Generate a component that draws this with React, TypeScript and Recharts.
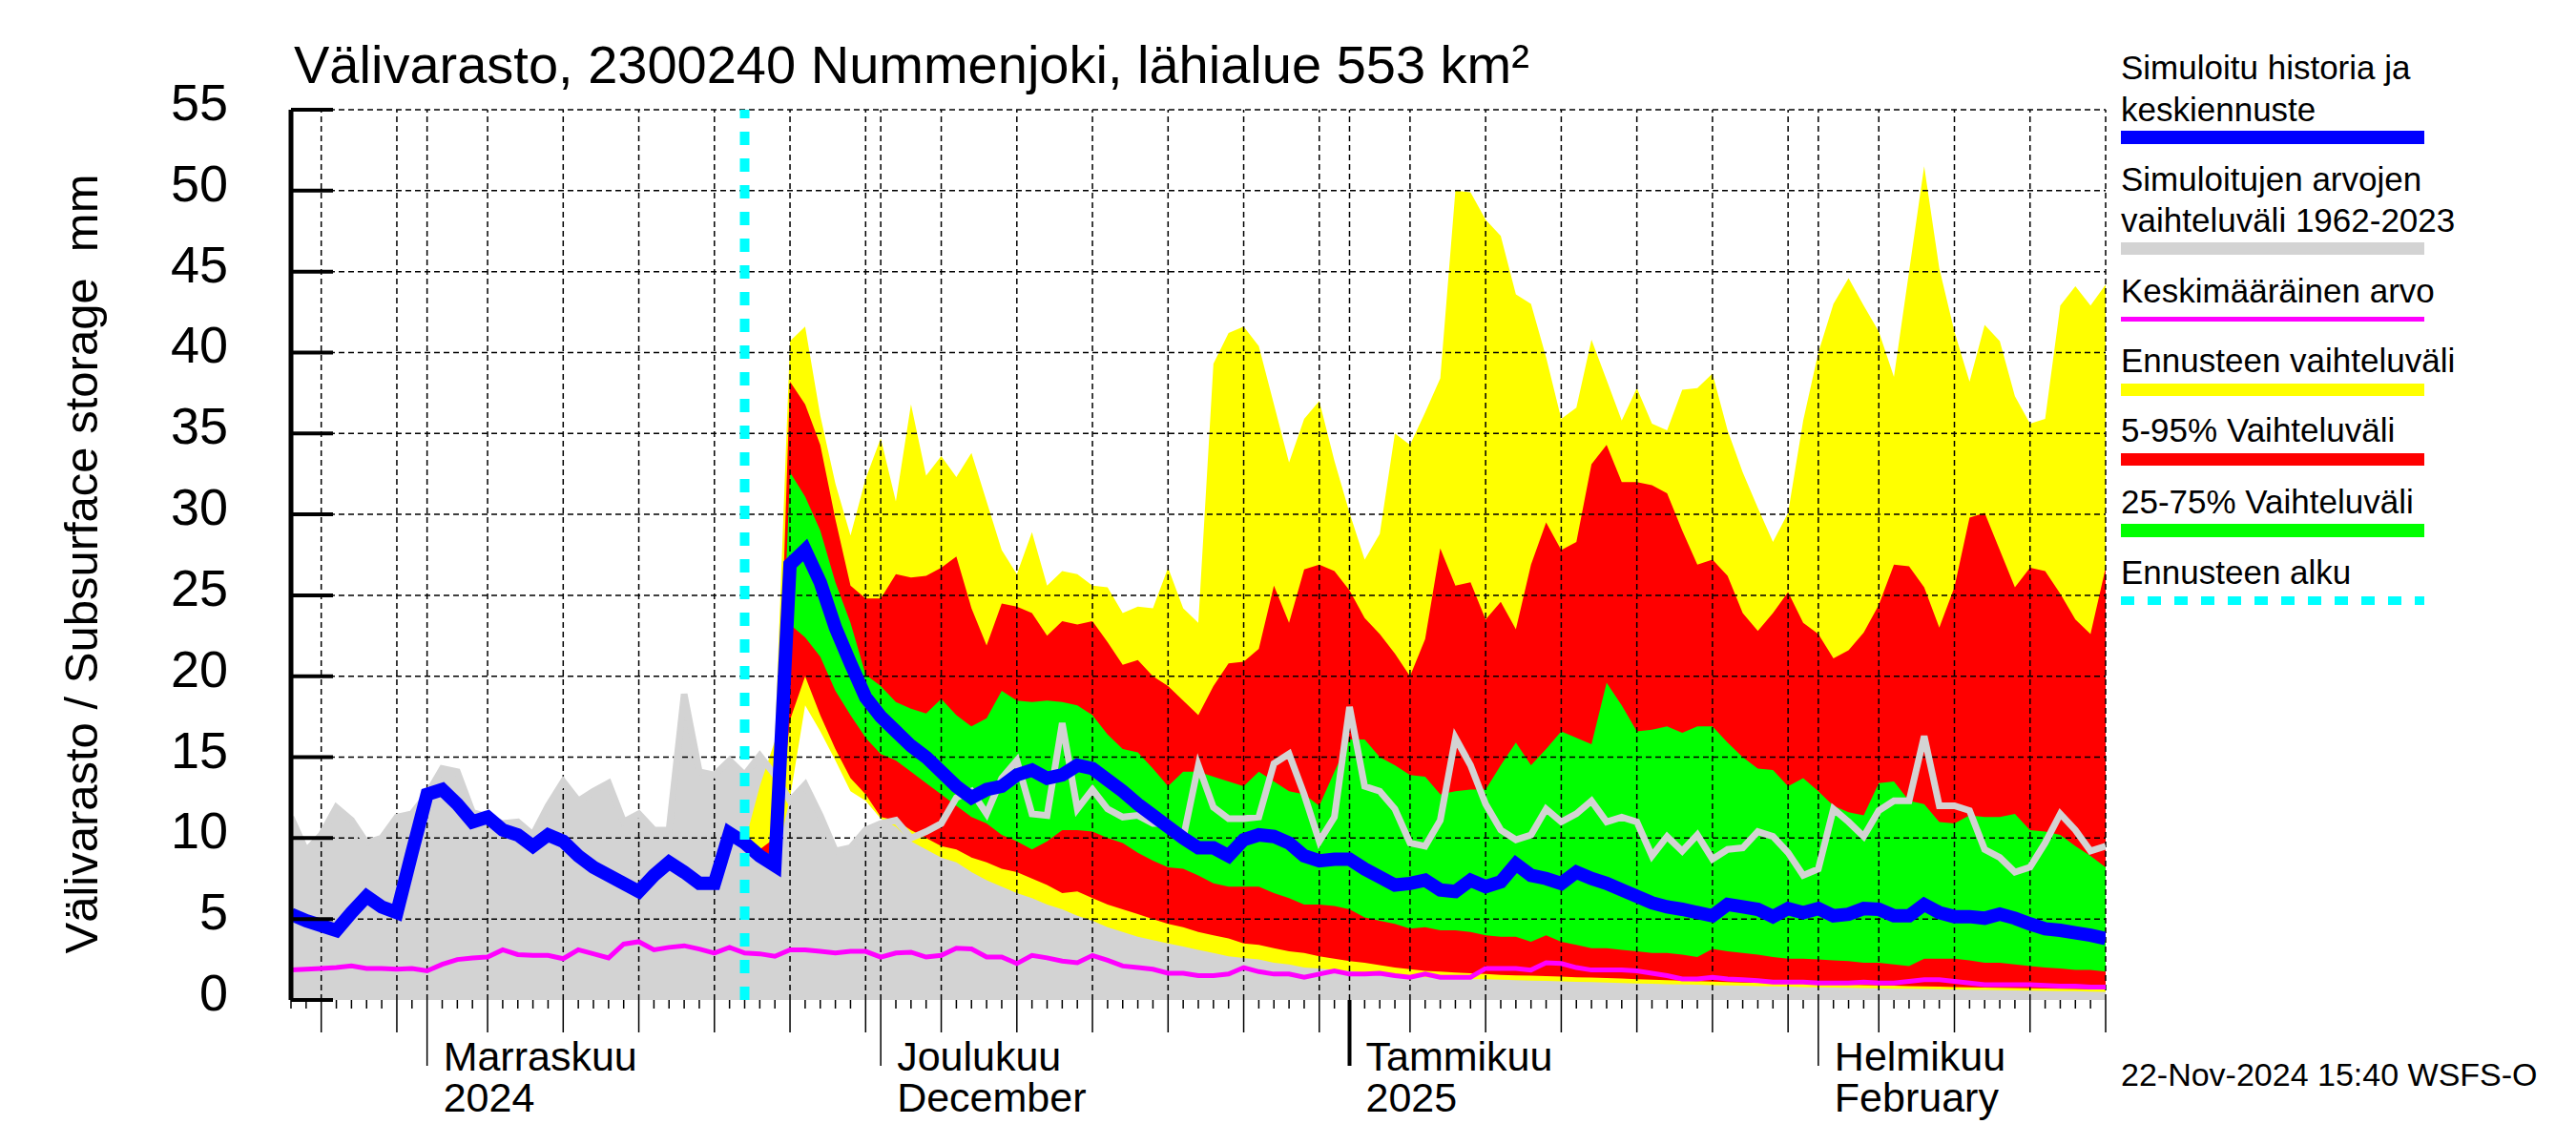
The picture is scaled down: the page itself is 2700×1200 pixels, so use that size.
import React from 'react';
import { ComposedChart, Area, Line, XAxis, YAxis, ReferenceLine } from 'recharts';

// Day index 0 = 23 Oct 2024, 120 = 20 Feb 2025
const FORECAST_START = 30; // 22 Nov 2024

const historyMax = [
  11.3, 9.2, 10.2, 11.9, 11.1, 9.7, 10.0, 11.3, 11.5, 12.7,
  14.3, 14.1, 11.6, 11.3, 10.9, 11.0, 10.2, 12.0, 13.5, 12.3,
  12.9, 13.4, 11.0, 11.5, 10.5, 10.5, 18.9, 14.1, 13.9, 14.8,
  13.9, 15.1, 13.9, 12.3, 13.3, 11.4, 9.2, 9.4, 10.5, 10.9,
  11.1, 10.0, 10.4, 10.9, 12.5, 12.9, 11.5, 13.7, 14.8, 11.5,
  11.4, 17.1, 11.8, 13.0, 11.8, 11.3, 11.4, 10.9, 10.9, 10.0,
  14.5, 11.9, 11.2, 11.2, 11.3, 14.6, 15.2, 12.7, 9.8, 11.3,
  18.1, 13.2, 12.9, 11.8, 9.7, 9.5, 11.1, 16.2, 14.5, 12.1,
  10.5, 9.9, 10.2, 11.8, 11.0, 11.5, 12.3, 11.0, 11.3, 11.0,
  8.9, 10.1, 9.2, 10.2, 8.7, 9.3, 9.4, 10.4, 10.1, 9.1,
  7.7, 8.1, 11.8, 11.0, 10.1, 11.7, 12.3, 12.3, 16.3, 12.0,
  12.0, 11.7, 9.3, 8.8, 7.9, 8.2, 9.7, 11.5, 10.5, 9.2,
  9.5,
];

const simulated = [
  5.3, 4.9, 4.6, 4.3, 5.4, 6.4, 5.75, 5.4, 9.1, 12.7,
  13.0, 12.1, 11.0, 11.3, 10.5, 10.2, 9.5, 10.2, 9.8, 8.9,
  8.2, 7.7, 7.2, 6.7, 7.7, 8.5, 7.9, 7.2, 7.2, 10.3,
  9.7, 8.9, 8.3, 26.9, 27.8, 25.8, 23.0, 20.8, 18.7, 17.5,
  16.6, 15.7, 15.0, 14.1, 13.2, 12.5, 13.0, 13.2, 13.9, 14.2,
  13.7, 13.9, 14.5, 14.3, 13.6, 12.9, 12.1, 11.4, 10.7, 10.0,
  9.4, 9.4, 8.9, 9.9, 10.2, 10.1, 9.7, 8.9, 8.6, 8.7,
  8.7, 8.1, 7.6, 7.1, 7.2, 7.4, 6.8, 6.7, 7.4, 7.0,
  7.3, 8.4, 7.7, 7.5, 7.2, 7.9, 7.5, 7.2, 6.8, 6.4,
  6.0, 5.75, 5.6, 5.4, 5.2, 5.9, 5.75, 5.6, 5.15, 5.65,
  5.4, 5.65, 5.2, 5.3, 5.65, 5.6, 5.2, 5.2, 5.9, 5.4,
  5.15, 5.15, 5.05, 5.3, 5.05, 4.7, 4.4, 4.3, 4.15, 4.0,
  3.8,
];

const meanValue = [
  1.85, 1.9, 1.95, 2.0, 2.1, 1.95, 1.95, 1.9, 1.95, 1.8,
  2.2, 2.5, 2.6, 2.65, 3.1, 2.8, 2.75, 2.75, 2.55, 3.1,
  2.85, 2.6, 3.45, 3.6, 3.1, 3.25, 3.35, 3.15, 2.9, 3.25,
  2.9, 2.85, 2.7, 3.1, 3.1, 3.0, 2.9, 3.0, 3.0, 2.65,
  2.9, 2.95, 2.65, 2.75, 3.2, 3.15, 2.65, 2.65, 2.25, 2.75,
  2.6, 2.4, 2.3, 2.75, 2.45, 2.1, 2.0, 1.9, 1.65, 1.65,
  1.5, 1.5, 1.6, 2.0, 1.75, 1.6, 1.6, 1.4, 1.6, 1.8,
  1.6, 1.6, 1.65, 1.5, 1.4, 1.6, 1.4, 1.4, 1.4, 1.95,
  1.95, 1.95, 1.85, 2.3, 2.25, 2.0, 1.85, 1.85, 1.85, 1.8,
  1.65, 1.5, 1.3, 1.3, 1.4, 1.3, 1.25, 1.2, 1.1, 1.1,
  1.1, 1.05, 1.05, 1.05, 1.1, 1.05, 1.05, 1.15, 1.25, 1.25,
  1.15, 1.05, 0.95, 0.95, 0.95, 0.95, 0.9, 0.85, 0.85, 0.8,
  0.8,
];

// Forecast bands, from FORECAST_START onwards
const yellowHigh = [
  9.7, 13.2, 16.0, 40.7, 41.6, 36.1, 31.9, 28.7, 32.2, 34.7,
  30.8, 36.8, 32.4, 33.6, 32.3, 33.8, 30.8, 27.8, 26.3, 28.9,
  25.6, 26.5, 26.3, 25.6, 25.5, 23.9, 24.3, 24.2, 26.7, 24.2,
  23.3, 39.3, 41.2, 41.6, 40.4, 36.8, 33.2, 35.9, 37.0, 33.3,
  30.1, 27.2, 28.8, 35.0, 34.3, 36.3, 38.4, 50.0, 49.9, 48.2,
  47.2, 43.6, 43.0, 39.7, 35.9, 36.6, 40.8, 38.3, 35.8, 37.8,
  35.6, 35.2, 37.7, 37.8, 38.7, 35.2, 32.6, 30.4, 28.3, 30.1,
  35.8, 40.0, 43.0, 44.6, 42.9, 41.3, 38.5, 45.0, 51.5, 45.2,
  41.3, 38.2, 41.7, 40.7, 37.3, 35.6, 35.9, 42.9, 44.1, 42.9,
  44.2,
];
const yellowLow = [
  9.7, 9.0, 8.3, 12.5, 18.2, 16.6, 14.8, 12.9, 12.3, 11.2,
  10.7, 9.8, 9.3, 8.8, 8.5, 7.9, 7.4, 7.0, 6.6, 6.3,
  5.9, 5.6, 5.2, 4.9, 4.5, 4.2, 3.9, 3.7, 3.5, 3.3,
  3.1, 2.9, 2.7, 2.6, 2.5, 2.3, 2.2, 2.0, 1.95, 1.85,
  1.8, 1.7, 1.6, 1.5, 1.45, 1.4, 1.35, 1.32, 1.3, 1.28,
  1.25, 1.22, 1.2, 1.18, 1.15, 1.12, 1.1, 1.08, 1.05, 1.02,
  1.0, 0.98, 0.96, 0.94, 0.92, 0.9, 0.88, 0.86, 0.84, 0.82,
  0.8, 0.78, 0.77, 0.75, 0.74, 0.72, 0.7, 0.69, 0.68, 0.66,
  0.65, 0.63, 0.62, 0.6, 0.59, 0.58, 0.56, 0.55, 0.54, 0.52,
  0.5,
];
const redHigh = [
  9.7, 9.3, 10.0, 38.2, 36.8, 34.3, 29.7, 25.6, 24.8, 24.8,
  26.3, 26.1, 26.2, 26.7, 27.4, 24.2, 21.9, 24.5, 24.3, 23.9,
  22.5, 23.4, 23.2, 23.4, 22.1, 20.7, 21.0, 20.0, 19.4, 18.5,
  17.6, 19.4, 20.8, 20.9, 21.7, 25.6, 23.3, 26.6, 26.9, 26.5,
  25.3, 23.6, 22.6, 21.4, 20.0, 22.3, 27.9, 25.6, 25.8, 23.5,
  24.6, 22.9, 26.9, 29.5, 27.8, 28.3, 33.1, 34.3, 32.0, 32.0,
  31.8, 31.3, 29.0, 26.9, 27.2, 26.2, 23.9, 22.8, 23.9, 25.2,
  23.3, 22.6, 21.1, 21.6, 22.7, 24.4, 26.9, 26.8, 25.5, 23.0,
  25.5, 29.8, 30.1, 27.8, 25.5, 26.7, 26.5, 25.1, 23.5, 22.6,
  26.7,
];
const redLow = [
  9.7, 9.0, 8.3, 17.3, 20.0, 17.6, 15.5, 13.7, 12.7, 11.3,
  11.1, 10.5, 10.0, 9.5, 9.3, 8.8, 8.5, 8.1, 7.9, 7.5,
  7.1, 6.6, 6.7, 6.3, 5.9, 5.6, 5.3, 5.0, 4.7, 4.5,
  4.2, 4.0, 3.8, 3.5, 3.4, 3.2, 3.0, 2.9, 2.7, 2.55,
  2.4, 2.3, 2.15, 2.0, 1.9, 1.8, 1.75, 1.7, 1.65, 1.6,
  1.55, 1.52, 1.5, 1.48, 1.45, 1.4, 1.38, 1.35, 1.32, 1.28,
  1.25, 1.22, 1.2, 1.16, 1.13, 1.1, 1.08, 1.06, 1.04, 1.02,
  1.0, 0.98, 0.96, 0.94, 0.92, 0.9, 0.88, 0.86, 0.84, 0.82,
  0.8, 0.78, 0.77, 0.75, 0.74, 0.72, 0.71, 0.69, 0.68, 0.66,
  0.65,
];
const greenHigh = [
  9.7, 9.1, 9.0, 32.6, 31.1, 29.0, 25.8, 23.3, 20.1, 19.4,
  18.4, 18.0, 17.7, 18.6, 17.6, 16.9, 17.4, 19.1, 18.5, 18.4,
  18.5, 18.4, 18.2, 17.6, 16.4, 15.5, 15.3, 14.3, 13.2, 14.1,
  14.1, 13.8, 13.5, 13.2, 14.1, 13.5, 12.9, 12.7, 12.0, 14.1,
  16.1, 16.1, 15.0, 14.5, 13.9, 13.8, 12.7, 12.9, 13.0, 13.0,
  14.5, 15.9, 14.5, 15.5, 16.6, 16.2, 15.8, 19.6, 18.2, 16.6,
  16.7, 16.9, 16.5, 16.9, 16.9, 15.9, 15.0, 14.3, 14.2, 13.2,
  13.7, 12.9, 12.0, 11.6, 11.4, 13.4, 13.5, 12.3, 12.1, 11.0,
  10.9, 11.4, 11.3, 11.3, 11.5, 10.5, 10.4, 10.2, 9.5, 8.9,
  8.2,
];
const greenLow = [
  9.7, 8.9, 8.3, 23.2, 22.4, 21.2, 19.1, 17.6, 16.2, 15.2,
  14.8, 14.1, 13.4, 12.7, 12.0, 11.3, 10.9, 10.2, 9.8, 9.3,
  9.8, 10.5, 10.5, 10.4, 10.0, 9.7, 9.1, 8.6, 8.2, 8.1,
  7.7, 7.2, 7.0, 7.0, 7.0, 6.6, 6.3, 5.9, 5.9, 5.8,
  5.6, 5.1, 4.9, 4.7, 4.4, 4.5, 4.3, 4.3, 4.2, 4.0,
  3.9, 3.9, 3.6, 4.0, 3.6, 3.4, 3.2, 3.2, 3.1, 3.0,
  2.9, 2.9, 2.8, 2.65, 3.15, 3.0, 2.9, 2.8, 2.65, 2.55,
  2.55, 2.5, 2.45, 2.4, 2.3, 2.3, 2.2, 2.1, 2.55, 2.55,
  2.55, 2.45, 2.3, 2.3, 2.2, 2.1, 2.0, 1.95, 1.85, 1.85,
  1.75,
];

const yTicks = [0, 5, 10, 15, 20, 25, 30, 35, 40, 45, 50, 55];
const monthStarts = [
  { d: 9, line1: 'Marraskuu', line2: '2024' },
  { d: 39, line1: 'Joulukuu', line2: 'December' },
  { d: 70, line1: 'Tammikuu', line2: '2025' },
  { d: 101, line1: 'Helmikuu', line2: 'February' },
];
const fiveDayMarks = [2, 7, 13, 18, 23, 28, 33, 38, 43, 48, 53, 58, 63, 68, 74, 79, 84, 89, 94, 99, 105, 110, 115, 120];
const yearStart = 70;
const gridDays = [...fiveDayMarks, ...monthStarts.map((m) => m.d)];
const allDays = simulated.map((_, i) => i);

const legendItems = [
  { lines: ['Simuloitu historia ja', 'keskiennuste'], color: '#0000ff', h: 14, dashed: false },
  { lines: ['Simuloitujen arvojen', 'vaihteluväli 1962-2023'], color: '#d3d3d3', h: 13, dashed: false },
  { lines: ['Keskimääräinen arvo'], color: '#ff00ff', h: 5, dashed: false },
  { lines: ['Ennusteen vaihteluväli'], color: '#ffff00', h: 13, dashed: false },
  { lines: ['5-95% Vaihteluväli'], color: '#ff0000', h: 13, dashed: false },
  { lines: ['25-75% Vaihteluväli'], color: '#00ff00', h: 14, dashed: false },
  { lines: ['Ennusteen alku'], color: '#00ffff', h: 9, dashed: true },
];

const FONT = '"Liberation Sans", Arial, Helvetica, sans-serif';

const data = allDays.map((d) => {
  const f = d - FORECAST_START;
  const inF = f >= 0;
  return {
    d,
    gray: [0, historyMax[d]],
    grayLine: historyMax[d],
    yellow: inF ? [yellowLow[f], yellowHigh[f]] : null,
    red: inF ? [redLow[f], redHigh[f]] : null,
    green: inF ? [greenLow[f], greenHigh[f]] : null,
    mean: meanValue[d],
    sim: simulated[d],
  };
});

const YTick = (props: any) => {
  const { x, y, payload } = props;
  return (
    <g>
      <line x1={x} x2={x + 44} y1={y} y2={y} stroke="#000" strokeWidth={4} />
      <text x={x - 66} y={y + 11} textAnchor="end" fontSize={54} fontFamily={FONT} fill="#000">
        {payload.value}
      </text>
    </g>
  );
};

const XTick = (props: any) => {
  const { x, y, payload } = props;
  const d = payload.value;
  const m = monthStarts.find((mm) => mm.d === d);
  const len = m ? 69 : fiveDayMarks.includes(d) ? 34 : 9;
  const w = d === yearStart ? 4 : 1.5;
  return (
    <g>
      <line x1={x} x2={x} y1={y} y2={y + len} stroke="#000" strokeWidth={w} />
      {m && (
        <text x={x + 17} fontSize={43} fontFamily={FONT} fill="#000">
          <tspan x={x + 17} y={y + 74}>{m.line1}</tspan>
          <tspan x={x + 17} y={y + 117}>{m.line2}</tspan>
        </text>
      )}
    </g>
  );
};

function Legend() {
  const x0 = 2223;
  const rows: any[] = [];
  // baselines for each legend block
  const layout = [
    { base: [83, 127], bar: 137 },
    { base: [200, 243], bar: 254 },
    { base: [317], bar: 332 },
    { base: [390], bar: 402 },
    { base: [463], bar: 475 },
    { base: [538], bar: 549 },
    { base: [612], bar: 625 },
  ];
  legendItems.forEach((it, i) => {
    const l = layout[i];
    it.lines.forEach((t, j) => {
      rows.push(
        <text key={`t${i}-${j}`} x={x0} y={l.base[j]} fontSize={35} fontFamily={FONT} fill="#000">
          {t}
        </text>
      );
    });
    if (it.dashed) {
      rows.push(
        <line key={`b${i}`} x1={x0} x2={x0 + 318} y1={l.bar + it.h / 2} y2={l.bar + it.h / 2}
          stroke={it.color} strokeWidth={it.h} strokeDasharray="14 14" />
      );
    } else {
      rows.push(<rect key={`b${i}`} x={x0} y={l.bar} width={318} height={it.h} fill={it.color} />);
    }
  });
  return <g>{rows}</g>;
}

export default function App() {
  return (
    <div style={{ position: 'relative', width: 2700, height: 1200, background: '#fff' }}>
      <style>{'body{margin:0;background:#fff}'}</style>
      <ComposedChart
        width={2700}
        height={1200}
        data={data}
        margin={{ top: 115, right: 493, bottom: 0, left: 0 }}
      >
        <XAxis
          type="number"
          dataKey="d"
          domain={[0, 120]}
          ticks={allDays}
          interval={0}
          tickLine={false}
          axisLine={false}
          tickSize={0}
          tickMargin={0}
          height={152}
          tick={<XTick />}
          allowDataOverflow
        />
        <YAxis
          type="number"
          domain={[0, 55]}
          ticks={yTicks}
          interval={0}
          width={305}
          tickLine={false}
          tickSize={0}
          tickMargin={0}
          axisLine={{ stroke: '#000', strokeWidth: 5 }}
          tick={<YTick />}
          allowDataOverflow
        />
        <Area type="linear" dataKey="gray" fill="#d3d3d3" fillOpacity={1} stroke="none" isAnimationActive={false} />
        <Area type="linear" dataKey="yellow" fill="#ffff00" fillOpacity={1} stroke="none" isAnimationActive={false} />
        <Area type="linear" dataKey="red" fill="#ff0000" fillOpacity={1} stroke="none" isAnimationActive={false} />
        <Area type="linear" dataKey="green" fill="#00ff00" fillOpacity={1} stroke="none" isAnimationActive={false} />
        {yTicks.filter((v) => v > 0).map((v) => (
          <ReferenceLine key={`h${v}`} y={v} stroke="#000" strokeWidth={1.5} strokeDasharray="6 4" />
        ))}
        {gridDays.map((d) => (
          <ReferenceLine key={`v${d}`} x={d} stroke="#000" strokeWidth={1.5} strokeDasharray="6 4" />
        ))}
        <Line type="linear" dataKey="grayLine" stroke="#d3d3d3" strokeWidth={7} dot={false} isAnimationActive={false} />
        <Line type="linear" dataKey="mean" stroke="#ff00ff" strokeWidth={5} dot={false} isAnimationActive={false} />
        <Line type="linear" dataKey="sim" stroke="#0000ff" strokeWidth={14} dot={false} isAnimationActive={false} />
        <ReferenceLine x={FORECAST_START} stroke="#00ffff" strokeWidth={10} strokeDasharray="14 14" />
      </ComposedChart>
      <svg width={2700} height={1200} style={{ position: 'absolute', left: 0, top: 0, pointerEvents: 'none' }}>
        <text x={308} y={87} fontSize={56} fontFamily={FONT} fill="#000">
          Välivarasto, 2300240 Nummenjoki, lähialue 553 km²
        </text>
        <text
          transform="translate(102,591) rotate(-90)"
          textAnchor="middle"
          fontSize={49}
          fontFamily={FONT}
          fill="#000"
          style={{ whiteSpace: 'pre' }}
        >
          {'Välivarasto / Subsurface storage  mm'}
        </text>
        <Legend />
        <text x={2223} y={1138} fontSize={34} fontFamily={FONT} fill="#000">
          22-Nov-2024 15:40 WSFS-O
        </text>
      </svg>
    </div>
  );
}
